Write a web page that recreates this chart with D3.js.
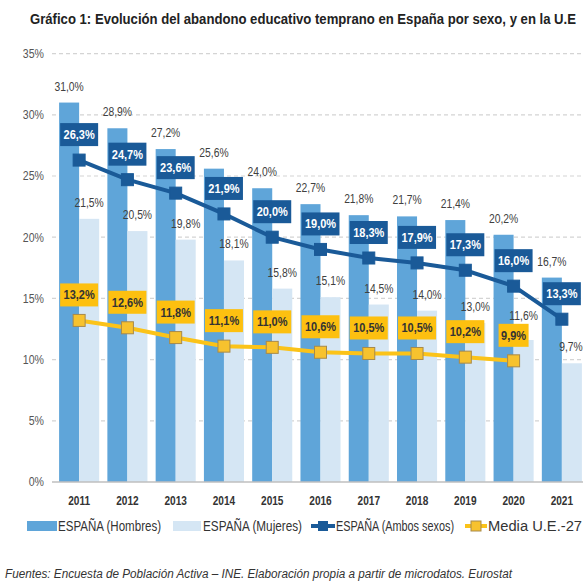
<!DOCTYPE html>
<html>
<head>
<meta charset="utf-8">
<script src="https://cdn.jsdelivr.net/npm/d3@7"></script>
<style>
  body { margin: 0; background: #fff; }
  svg { display: block; }
</style>
</head>
<body>
<div id="viz"></div>
<script>
var years = ['2011', '2012', '2013', '2014', '2015', '2016', '2017', '2018', '2019', '2020', '2021'];
var hombres = [31.0, 28.9, 27.2, 25.6, 24.0, 22.7, 21.8, 21.7, 21.4, 20.2, 16.7];
var mujeres = [21.5, 20.5, 19.8, 18.1, 15.8, 15.1, 14.5, 14.0, 13.0, 11.6, 9.7];
var ambos = [26.3, 24.7, 23.6, 21.9, 20.0, 19.0, 18.3, 17.9, 17.3, 16.0, 13.3];
var mediaUE = [13.2, 12.6, 11.8, 11.1, 11.0, 10.6, 10.5, 10.5, 10.2, 9.9, null];
var yTicks = [0, 5, 10, 15, 20, 25, 30, 35];

var width = 583,
    height = 582;

var cHombres = '#5fa5d9',
    cMujeres = '#d5e6f4',
    cAmbos = '#1a5a98',
    cUE = '#fbc319';

var font = "'Liberation Sans', Arial, sans-serif";

var fmt = function(v) { return v.toFixed(1).replace('.', ',') + '%'; };

// squeeze text horizontally (the original uses a condensed font)
function narrow(sel, k) {
    sel.each(function() {
        var w = this.getComputedTextLength();
        d3.select(this)
            .attr('textLength', w * k)
            .attr('lengthAdjust', 'spacingAndGlyphs');
    });
}

var x = d3.scaleBand()
    .domain(years)
    .range([55, 586])
    .paddingInner(.17)
    .paddingOuter(.085);

var xs = d3.scaleBand()
    .domain(['h', 'm'])
    .range([0, x.bandwidth()]);

var y = d3.scaleLinear()
    .domain([0, 35])
    .range([482, 53.6]);

var svg = d3.select('#viz').append('svg')
    .attr('width', width)
    .attr('height', height)
    .style('font-family', font);

// title
svg.append('text')
    .attr('x', 30)
    .attr('y', 24)
    .attr('textLength', 546)
    .attr('lengthAdjust', 'spacingAndGlyphs')
    .style('font-size', '14px')
    .style('font-weight', 'bold')
    .style('fill', '#222')
    .text('Gráfico 1: Evolución del abandono educativo temprano en España por sexo, y en la U.E');

// y axis + grid
var yAxis = svg.append('g')
    .attr('transform', 'translate(45,0)')
    .call(d3.axisLeft(y).tickValues(yTicks).tickSize(0).tickPadding(1)
        .tickFormat(function(d) { return d + '%'; }));
yAxis.select('.domain').remove();
yAxis.selectAll('text')
    .style('font-family', font)
    .style('font-size', '12px')
    .style('fill', '#555')
    .call(narrow, .88);

svg.append('g').selectAll('line')
    .data(yTicks.filter(function(d) { return d > 0; }))
    .enter().append('line')
    .attr('x1', 52)
    .attr('x2', width)
    .attr('y1', function(d) { return y(d); })
    .attr('y2', function(d) { return y(d); })
    .attr('stroke', '#d4d4d4')
    .attr('stroke-width', 1.2)
    .attr('stroke-dasharray', '4,3');

// bars
var groups = svg.append('g').selectAll('g')
    .data(years)
    .enter().append('g')
    .attr('transform', function(d) { return 'translate(' + x(d) + ',0)'; });

groups.append('rect')
    .attr('x', xs('h'))
    .attr('width', xs.bandwidth())
    .attr('y', function(d, i) { return y(hombres[i]); })
    .attr('height', function(d, i) { return y(0) - y(hombres[i]); })
    .attr('fill', cHombres);

groups.append('rect')
    .attr('x', xs('m'))
    .attr('width', xs.bandwidth())
    .attr('y', function(d, i) { return y(mujeres[i]); })
    .attr('height', function(d, i) { return y(0) - y(mujeres[i]); })
    .attr('fill', cMujeres);

// x axis
svg.append('line')
    .attr('x1', 52)
    .attr('x2', width)
    .attr('y1', y(0))
    .attr('y2', y(0))
    .attr('stroke', '#bfbfbf')
    .attr('stroke-width', 1.5);

var xAxis = svg.append('g')
    .attr('transform', 'translate(0,' + y(0) + ')')
    .call(d3.axisBottom(x).tickSize(0).tickPadding(14));
xAxis.select('.domain').remove();
xAxis.selectAll('text')
    .style('font-family', font)
    .style('font-size', '12px')
    .style('font-weight', 'bold')
    .style('fill', '#333')
    .call(narrow, .84);

// bar labels
groups.append('text')
    .attr('x', xs('h') + xs.bandwidth() / 2)
    .attr('y', function(d, i) { return y(hombres[i]) - 12; })
    .attr('text-anchor', 'middle')
    .style('font-size', '12px')
    .style('fill', '#404040')
    .text(function(d, i) { return fmt(hombres[i]); })
    .call(narrow, .86);

groups.append('text')
    .attr('x', function(d) {
        // keep the last label inside the picture
        return Math.min(xs('m') + xs.bandwidth() / 2, width - 12 - x(d));
    })
    .attr('y', function(d, i) {
        // 2020 label sits higher, above the 9,9% box
        return y(mujeres[i]) - (i === 9 ? 20 : 12);
    })
    .attr('text-anchor', 'middle')
    .style('font-size', '12px')
    .style('fill', '#404040')
    .text(function(d, i) { return fmt(mujeres[i]); })
    .call(narrow, .86);

// lines
var cx = function(i) { return x(years[i]) + x.bandwidth() / 2; };

function drawSeries(values, color, markFill, markStroke, boxFill, textFill) {
    var pts = values.map(function(v, i) { return { v: v, i: i }; })
        .filter(function(p) { return p.v !== null; });

    var line = d3.line()
        .x(function(p) { return cx(p.i); })
        .y(function(p) { return y(p.v); });

    svg.append('path')
        .datum(pts)
        .attr('d', line)
        .attr('fill', 'none')
        .attr('stroke', color)
        .attr('stroke-width', 4);

    svg.append('g').selectAll('rect')
        .data(pts)
        .enter().append('rect')
        .attr('x', function(p) { return cx(p.i) - 6; })
        .attr('y', function(p) { return y(p.v) - 6; })
        .attr('width', 12)
        .attr('height', 12)
        .attr('fill', markFill)
        .attr('stroke', markStroke)
        .attr('stroke-width', 1);

    var lab = svg.append('g').selectAll('g')
        .data(pts)
        .enter().append('g')
        .attr('transform', function(p) {
            return 'translate(' + cx(p.i) + ',' + (y(p.v) - 14) + ')';
        });

    lab.append('rect')
        .attr('x', function(p) { return p.v < 10 ? -15 : -19; })
        .attr('y', -23)
        .attr('width', function(p) { return p.v < 10 ? 30 : 38; })
        .attr('height', 23)
        .attr('fill', boxFill);

    lab.append('text')
        .attr('y', -7)
        .attr('text-anchor', 'middle')
        .style('font-size', '12.5px')
        .style('font-weight', 'bold')
        .style('fill', textFill)
        .text(function(p) { return fmt(p.v); })
        .call(narrow, .88);
}

drawSeries(mediaUE, cUE, '#f7c22e', '#a88a4a', '#fdc010', '#333');
drawSeries(ambos, cAmbos, cAmbos, cAmbos, cAmbos, '#fff');

// legend
var leg = svg.append('g').style('font-size', '14px').style('fill', '#333');

leg.append('rect').attr('x', 27).attr('y', 521).attr('width', 30).attr('height', 10).attr('fill', cHombres);
leg.append('text').attr('x', 58).attr('y', 531).attr('textLength', 103)
    .attr('lengthAdjust', 'spacingAndGlyphs').text('ESPAÑA (Hombres)');

leg.append('rect').attr('x', 173).attr('y', 521).attr('width', 28).attr('height', 10).attr('fill', cMujeres);
leg.append('text').attr('x', 203).attr('y', 531).attr('textLength', 99)
    .attr('lengthAdjust', 'spacingAndGlyphs').text('ESPAÑA (Mujeres)');

leg.append('line').attr('x1', 311).attr('x2', 335).attr('y1', 526).attr('y2', 526)
    .attr('stroke', cAmbos).attr('stroke-width', 4);
leg.append('rect').attr('x', 318).attr('y', 521).attr('width', 10).attr('height', 10).attr('fill', cAmbos);
leg.append('text').attr('x', 336).attr('y', 531).attr('textLength', 118)
    .attr('lengthAdjust', 'spacingAndGlyphs').text('ESPAÑA (Ambos sexos)');

leg.append('line').attr('x1', 465).attr('x2', 487).attr('y1', 526).attr('y2', 526)
    .attr('stroke', cUE).attr('stroke-width', 4);
leg.append('rect').attr('x', 471).attr('y', 521).attr('width', 10).attr('height', 10)
    .attr('fill', '#f7c22e').attr('stroke', '#a88a4a');
leg.append('text').attr('x', 488).attr('y', 531).attr('textLength', 94)
    .attr('lengthAdjust', 'spacingAndGlyphs').text('Media U.E.-27');

// source
svg.append('text')
    .attr('x', 5)
    .attr('y', 578)
    .attr('textLength', 507)
    .attr('lengthAdjust', 'spacingAndGlyphs')
    .style('font-size', '12px')
    .style('font-style', 'italic')
    .style('fill', '#333')
    .text('Fuentes: Encuesta de Población Activa – INE. Elaboración propia a partir de microdatos. Eurostat');
</script>
</body>
</html>
